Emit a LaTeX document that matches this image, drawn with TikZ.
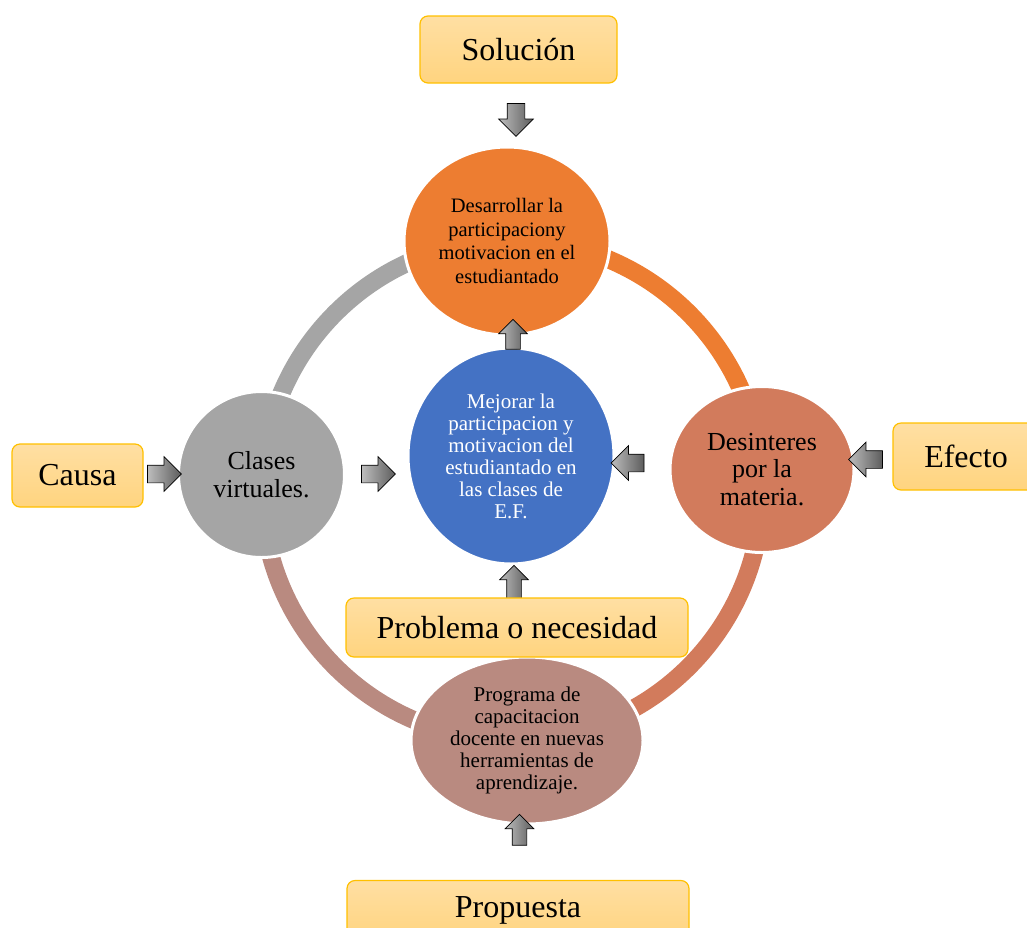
\documentclass[tikz,border=0pt]{standalone}
\usepackage{fontspec}
\setmainfont{Liberation Serif}
\usepackage{tikz}
\usetikzlibrary{shapes.geometric}
\usetikzlibrary{shapes.arrows}

\definecolor{naranja}{HTML}{ED7D31}
\definecolor{gris}{HTML}{A5A5A5}
\definecolor{azul}{HTML}{4472C4}
\definecolor{teja}{HTML}{D27B5C}
\definecolor{rosado}{HTML}{B98A80}
\definecolor{cajaarriba}{HTML}{FFDFA3}
\definecolor{cajaabajo}{HTML}{FFD47F}
\definecolor{cajaborde}{HTML}{FFC000}
\definecolor{flechaclara}{HTML}{BDBDBD}
\definecolor{flechaoscura}{HTML}{5C5C5C}

\tikzset{
	circulo/.style={ellipse, draw=white, line width=3pt, align=center, inner sep=0pt},
	caja/.style={rounded corners=8pt, draw=cajaborde, line width=1.2pt, top color=cajaarriba, bottom color=cajaabajo, font=\fontsize{32}{36}\selectfont},
	flecha/.style={single arrow, draw=black, line width=0.7pt, left color=flechaclara, right color=flechaoscura, inner xsep=0pt, inner ysep=8.5pt, single arrow head extend=8.5pt, minimum height=34pt},
	flechita/.style={flecha, inner ysep=7pt, single arrow head extend=7pt},
	anillo/.style={line width=18pt}
}

\begin{document}
\begin{tikzpicture}[x=1pt,y=-1pt]
		\useasboundingbox (0,0) rectangle (1027,927);
		\clip (0,0) rectangle (1027,927);
		% anillo
		\coordinate (centro) at (512,490);
		\draw[anillo, gris] (centro) ++(180:250) arc (180:270:250);
		\draw[anillo, naranja] (centro) ++(270:250) arc (270:360:250);
		\draw[anillo, teja] (centro) ++(0:250) arc (0:90:250);
		\draw[anillo, rosado] (centro) ++(90:250) arc (90:180:250);
		% circulos
		\node[circulo, fill=naranja, minimum width=206pt, minimum height=188pt, font=\fontsize{20.5}{23.5}\selectfont] (solucionC) at (507,241) {Desarrollar la\\participaciony\\motivacion en el\\estudiantado};
		\node[circulo, fill=gris, minimum width=166pt, minimum height=166pt, font=\fontsize{26}{28}\selectfont] (causaC) at (261.5,474.5) {Clases\\virtuales.};
		\node[circulo, fill=teja, minimum width=184pt, minimum height=166pt, font=\fontsize{26}{27.5}\selectfont] (efectoC) at (762,469.5) {Desinteres\\por la\\materia.};
		\node[circulo, fill=rosado, minimum width=232pt, minimum height=167pt, font=\fontsize{21}{22}\selectfont] (propuestaC) at (527,740.5) {Programa de\\capacitacion\\docente en nuevas\\herramientas de\\aprendizaje.};
		\node[circulo, fill=azul, text=white, minimum width=206pt, minimum height=216pt, font=\fontsize{21}{22}\selectfont] (problemaC) at (511,456) {Mejorar la\\participacion y\\motivacion del\\estudiantado en\\las clases de\\E.F.};
		% flechas
		\node[flechita, rotate=90, minimum height=30pt] (f1) at (513,338) {};
		\node[flechita, rotate=90, minimum height=36pt] (f2) at (514,587) {};
		\node[flechita, rotate=90, minimum height=31pt] (f3) at (519.5,833.5) {};
		\node[flecha, rotate=-90, minimum height=33pt] (f4) at (516,115.5) {};
		\node[flecha] (f5) at (160,474) {};
		\node[flecha] (f6) at (374,474) {};
		\node[flecha, rotate=180, minimum height=33pt] (f7) at (632,463) {};
		\node[flecha, rotate=180] (f8) at (870,459.5) {};
		% cajas
		\node[caja, minimum width=197pt, minimum height=67pt] (solucion) at (518.5,49.5) {Solución};
		\node[caja, minimum width=131pt, minimum height=63pt] (causa) at (77.5,475.5) {Causa};
		\node[caja, minimum width=146pt, minimum height=67pt] (efecto) at (966,456.5) {Efecto};
		\node[caja, minimum width=342pt, minimum height=59pt] (problema) at (517,627.5) {Problema o necesidad};
		\node[caja, minimum width=342pt, minimum height=59pt] (propuesta) at (518,910) {Propuesta};
\end{tikzpicture}
\end{document}
